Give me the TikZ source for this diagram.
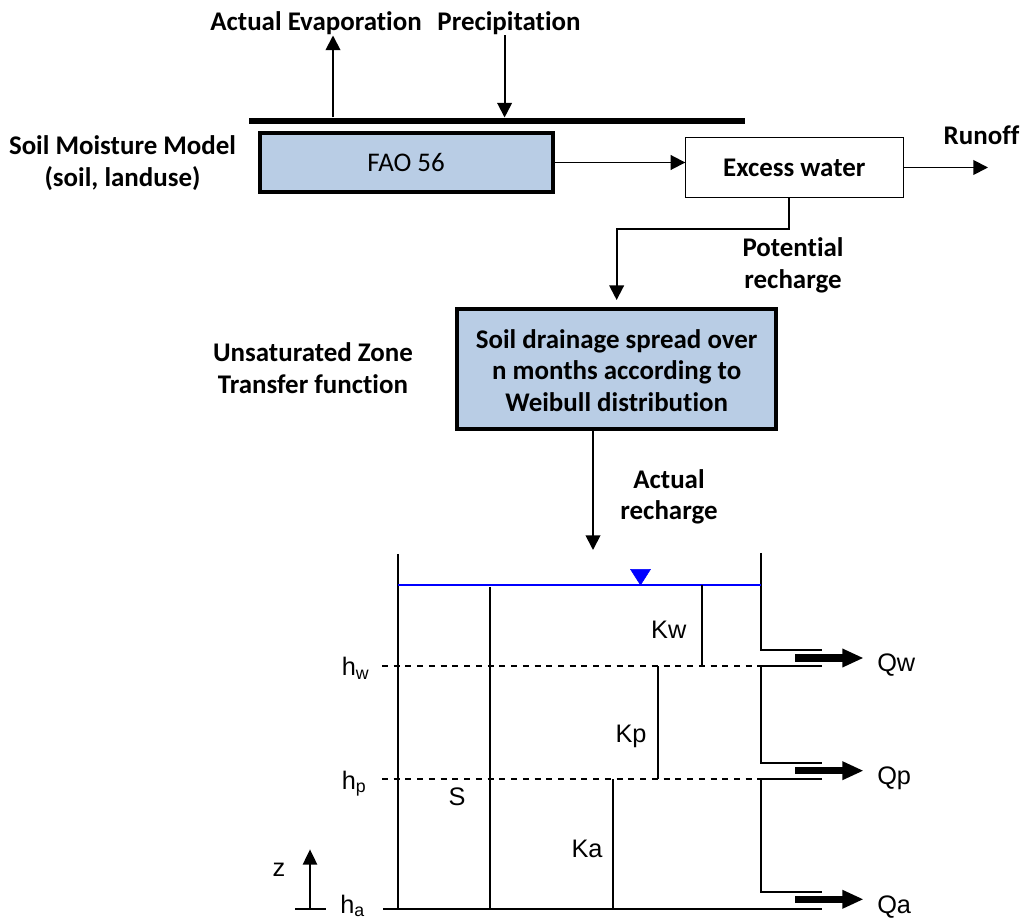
\documentclass[tikz,border=0pt]{standalone}
\usepackage{fontspec}
\setmainfont{Carlito}[Ligatures=NoCommon]
\newfontfamily\arialf{Liberation Sans}
\usetikzlibrary{arrows.meta}
\definecolor{boxblue}{HTML}{B9CDE5}
\begin{document}
\begin{tikzpicture}[x=0.75pt,y=-0.75pt,
  lbl/.style={font=\fontsize{20.2}{23.8}\selectfont\bfseries, inner sep=0, align=center},
  tl/.style={font=\arialf\fontsize{19}{22}\selectfont, inner sep=0},
  arr/.style={line width=1.4pt, -{Triangle[length=11pt,width=11pt]}},
  bluebox/.style={draw, line width=3pt, fill=boxblue, inner sep=0, outer sep=0},
  whitebox/.style={draw, line width=1pt, fill=white, inner sep=0, outer sep=0},
  wall/.style={line width=1.6pt},
  outl/.style={line width=1pt},
  hline/.style={line width=1.3pt, dash pattern=on 4.5pt off 4.3pt},
  bigarr/.style={line width=5.5pt, -{Triangle[length=16pt,width=13pt]}},
]
\useasboundingbox (0,0) rectangle (1025,919);

% ---------- top part ----------
\node[lbl, anchor=base] (evap) at (316,31) {Actual Evaporation};
\node[lbl, anchor=base] (precip) at (509,31) {Precipitation};
\coordinate (barL) at (249,120.7);
\coordinate (barR) at (745,120.7);
\draw[line width=4.5pt] (barL) -- (barR);
\coordinate (evapfoot) at (333,117.5);
\coordinate (precipfoot) at (504.6,117.5);
\draw[arr] (evapfoot) -- (evapfoot |- evap.south);
\draw[arr] (precipfoot |- precip.south) -- (precipfoot);

\node[bluebox, minimum width=219.6pt, minimum height=44.25pt,
      font=\fontsize{20.2}{24}\selectfont] (fao) at (406.1,162.5) {FAO 56};
\node[lbl, anchor=base] (smm) at (122.5,186.5) {Soil Moisture Model\\(soil, landuse)};

\node[whitebox, minimum width=163.5pt, minimum height=45.3pt,
      font=\fontsize{20.2}{24}\selectfont\bfseries] (exc) at (794.3,167.5) {Excess water};
\draw[arr] (fao.east) -- (fao.east -| exc.west);
\coordinate (runoffend) at (988,167.5);
\draw[arr] (exc.east) -- (runoffend);
\node[lbl, anchor=base] (runoff) at (981.5,144.3) {Runoff};

\node[bluebox, minimum width=239pt, minimum height=90.2pt] (drain) at (616.65,369.15) {};
\node[lbl, anchor=base] (draintxt) at (616.65,411.7)
  {Soil drainage spread over\\n months according to\\Weibull distribution};
\coordinate (pk) at (789,0);
\draw[arr, shorten >=6.75pt] (exc.south -| pk) -- ++(0,31.3) -| (drain.north);
\node[lbl, anchor=base] (pot) at (793,288.3) {Potential\\recharge};
\node[lbl, anchor=base] (unsat) at (313,393.3) {Unsaturated Zone\\Transfer function};

\coordinate (ak) at (593,0);
\coordinate (tankin) at (593,550);
\draw[arr] (drain.south -| ak) -- (tankin);
\node[lbl, anchor=base] (act) at (669,520) {Actual\\recharge};

% ---------- tank ----------
\draw[wall] (398,554) -- (398,909);
\draw[wall] (383,909) -- (822,909);
\draw[outl] (761,553) -- (761,650) -- (822,650);
\draw[outl] (822,666) -- (761,666) -- (761,763) -- (822,763);
\draw[outl] (822,779) -- (761,779) -- (761,892) -- (822,892);
\draw[hline] (382,666) -- (761,666);
\draw[hline] (382,779) -- (761,779);
\draw[blue, line width=0.8pt] (398,585) -- (761,585);
\draw[fill=blue, draw=blue] (630.5,569.3) -- (650.5,569.3) -- (640.5,585) -- cycle;
\draw[wall] (490,587) -- (490,909);
\draw[wall] (701.8,585) -- (701.8,666);
\draw[wall] (657.8,666) -- (657.8,779);
\draw[line width=1.3pt] (612.7,779) -- (612.7,909);

\node[tl, anchor=base west] (qw) at (877,671.7) {Qw};
\node[tl, anchor=base west] (qp) at (877,784) {Qp};
\node[tl, anchor=base west] (qa) at (877,913.3) {Qa};
\coordinate (qws) at (795,658);
\coordinate (qps) at (795,770.7);
\coordinate (qas) at (795,899.3);
\draw[bigarr] (qws) -- ([xshift=-10pt]qws -| qw.west);
\draw[bigarr] (qps) -- ([xshift=-10pt]qps -| qp.west);
\draw[bigarr] (qas) -- ([xshift=-10pt]qas -| qa.west);

\node[tl, anchor=base] (kw) at (668.8,638.3) {Kw};
\node[tl, anchor=base] (kp) at (631,742.7) {Kp};
\node[tl, anchor=base] (ka) at (587,857.3) {Ka};
\node[tl, anchor=base] (s) at (457,805) {S};
\node[tl, anchor=base west] (hw) at (341.5,676) {h\textsubscript{w}};
\node[tl, anchor=base west] (hp) at (341.5,789.3) {h\textsubscript{p}};
\node[tl, anchor=base west] (ha) at (340,913.5) {h\textsubscript{a}};
\node[tl, anchor=base] (z) at (279,876.7) {z};
\coordinate (zfoot) at (310,909.3);
\coordinate (ztip) at (310,849.3);
\coordinate (tickL) at (295,909.3);
\coordinate (tickR) at (326,909.3);
\draw[line width=2pt, -{Triangle[length=11.5pt,width=10.5pt]}] (zfoot) -- (ztip);
\draw[line width=1.7pt] (tickL) -- (tickR);
\end{tikzpicture}
\end{document}
